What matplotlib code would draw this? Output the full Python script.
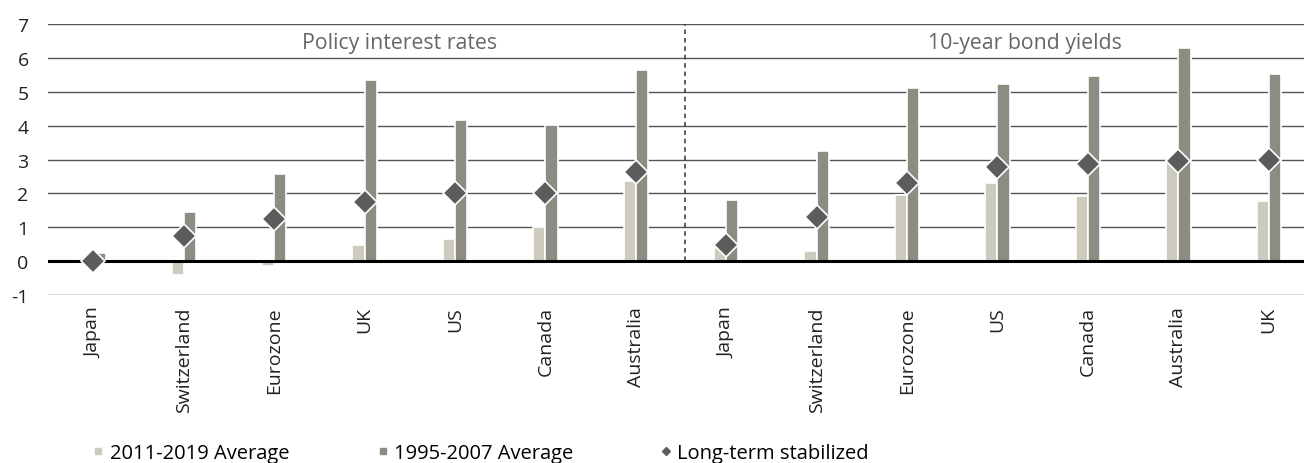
import matplotlib.pyplot as plt
import numpy as np
from matplotlib.lines import Line2D

plt.rcParams['font.family'] = ['Open Sans', 'DejaVu Sans']
plt.rcParams['axes.unicode_minus'] = False

countries = ['Japan', 'Switzerland', 'Eurozone', 'UK', 'US', 'Canada', 'Australia',
             'Japan', 'Switzerland', 'Eurozone', 'US', 'Canada', 'Australia', 'UK']
avg_2011_2019 = [0.0, -0.4, -0.13, 0.48, 0.64, 1.0, 2.38,
                 0.38, 0.3, 1.95, 2.3, 1.93, 2.95, 1.79]
avg_1995_2007 = [0.24, 1.46, 2.56, 5.36, 4.18, 4.03, 5.63,
                 1.82, 3.25, 5.12, 5.23, 5.46, 6.28, 5.52]
long_term = [0.0, 0.75, 1.25, 1.76, 2.02, 2.02, 2.62,
             0.49, 1.3, 2.31, 2.77, 2.88, 2.97, 2.99]

light_color = '#cdcbbf'
dark_color = '#8c8c82'
diamond_color = '#5a5d5c'
grid_color = '#555555'

figure = plt.figure(figsize=(13.04, 4.64), dpi=100)
axis = figure.add_axes([0.0369, 0.362, 0.9631, 0.584])

x = np.arange(len(countries))
width = 0.135

for level in range(-1, 8):
    if level != 0:
        axis.axhline(level, color=grid_color, linewidth=1.0, zorder=1)
axis.axhline(0, color='black', linewidth=2.2, zorder=4)

axis.bar(x - width / 2, avg_2011_2019, width, color=light_color,
         edgecolor='white', linewidth=1.2, zorder=2)
axis.bar(x + width / 2, avg_1995_2007, width, color=dark_color,
         edgecolor='white', linewidth=1.2, zorder=2)
axis.plot(x, long_term, linestyle='none', marker='D', markersize=11.8,
          color=diamond_color, markeredgecolor='white', markeredgewidth=1.2, zorder=5)

axis.plot([6.54, 6.54], [0, 7], color='#333333', linestyle=(0, (3, 2.5)),
          linewidth=1.1, zorder=3)

axis.text(3.39, 6.47, 'Policy interest rates', ha='center', va='center',
          fontsize=15.3, color='#666666')
axis.text(10.3, 6.47, '10-year bond yields', ha='center', va='center',
          fontsize=15.3, color='#666666')

axis.set_xlim(-0.5, 13.39)
axis.set_ylim(-1, 7)
axis.set_yticks(range(-1, 8))
axis.set_xticks(x)
axis.set_xticklabels(countries, rotation=90, fontsize=14, color='#222222')
axis.tick_params(axis='y', labelsize=14, length=0, pad=14, labelcolor='#222222')
axis.tick_params(axis='x', length=0, pad=8)
for side in axis.spines.values():
    side.set_visible(False)

legend_items = [
    (Line2D([], [], linestyle='none', marker='s', markersize=5, color=light_color),
     '2011-2019 Average', 0.0709),
    (Line2D([], [], linestyle='none', marker='s', markersize=5, color=dark_color),
     '1995-2007 Average', 0.289),
    (Line2D([], [], linestyle='none', marker='D', markersize=3.6, color=diamond_color),
     'Long-term stabilized', 0.506),
]
for handle, label, left in legend_items:
    figure.legend([handle], [label], loc='center left', bbox_to_anchor=(left, 0.021),
                  frameon=False, fontsize=14.5, handlelength=0.6,
                  handletextpad=0.25, borderpad=0, borderaxespad=0)

figure.savefig('out.png', dpi=100)
